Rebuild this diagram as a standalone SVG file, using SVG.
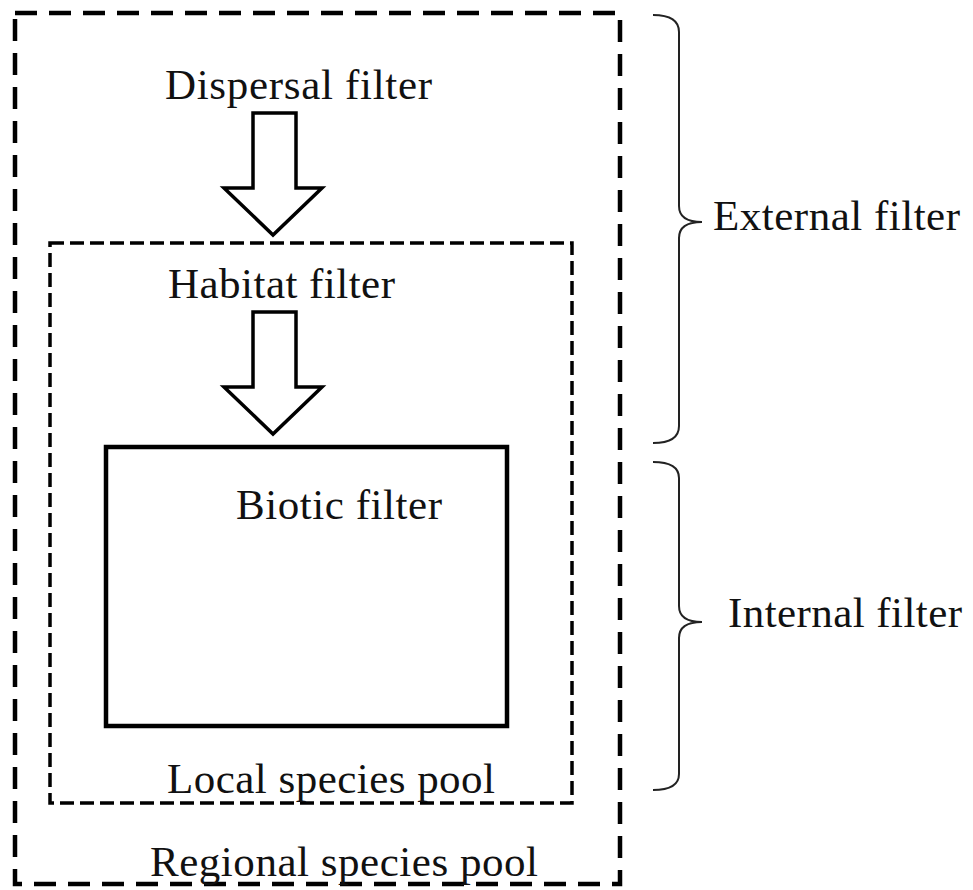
<svg xmlns="http://www.w3.org/2000/svg" width="973" height="890" viewBox="0 0 973 890">
<style>
.lbl{font-family:"Liberation Serif","Times New Roman",serif;font-size:43px;fill:#111;}
.outer{fill:none;stroke:#000;stroke-width:4.5;stroke-dasharray:22 12;}
.inner{fill:none;stroke:#000;stroke-width:3.5;stroke-dasharray:14 6;}
.solid{fill:#fff;stroke:#000;stroke-width:4.5;}
.arrow{fill:#fff;stroke:#000;stroke-width:3.5;stroke-linejoin:miter;}
.brace{fill:none;stroke:#222;stroke-width:2;}
</style>
<rect width="973" height="890" fill="#fff"/>
<g id="regional-pool">
<rect class="outer" x="15" y="13" width="605" height="871"/>
<text class="lbl" x="150" y="876" textLength="388">Regional species pool</text>
</g>
<g id="local-pool">
<rect class="inner" x="50" y="243" width="522" height="560"/>
<text class="lbl" x="167" y="793" textLength="328">Local species pool</text>
</g>
<g id="biotic-filter">
<rect class="solid" x="106" y="447" width="401" height="279"/>
<text class="lbl" x="236" y="519" textLength="206">Biotic filter</text>
</g>
<g id="dispersal-filter">
<text class="lbl" x="165" y="99" textLength="267">Dispersal filter</text>
</g>
<g id="habitat-filter">
<text class="lbl" x="168" y="298" textLength="227">Habitat filter</text>
</g>
<g id="external-filter">
<path class="brace" d="M653,15 Q679,15 679,32 L679,206 Q679,222 702,222 Q679,222 679,238 L679,426 Q679,443 653,443"/>
<text class="lbl" x="713" y="230" textLength="247">External filter</text>
</g>
<g id="internal-filter">
<path class="brace" d="M653,462 Q679,462 679,478 L679,606 Q679,622 702,622 Q679,622 679,638 L679,774 Q679,790 653,790"/>
<text class="lbl" x="728" y="627" textLength="234">Internal filter</text>
</g>
<g id="connectors">
<path class="arrow" d="M253,113 L296,113 L296,188 L322,188 L273,235 L224,188 L253,188 Z"/>
<path class="arrow" d="M253,312 L296,312 L296,387 L322,387 L273,434 L224,387 L253,387 Z"/>
</g>
</svg>
